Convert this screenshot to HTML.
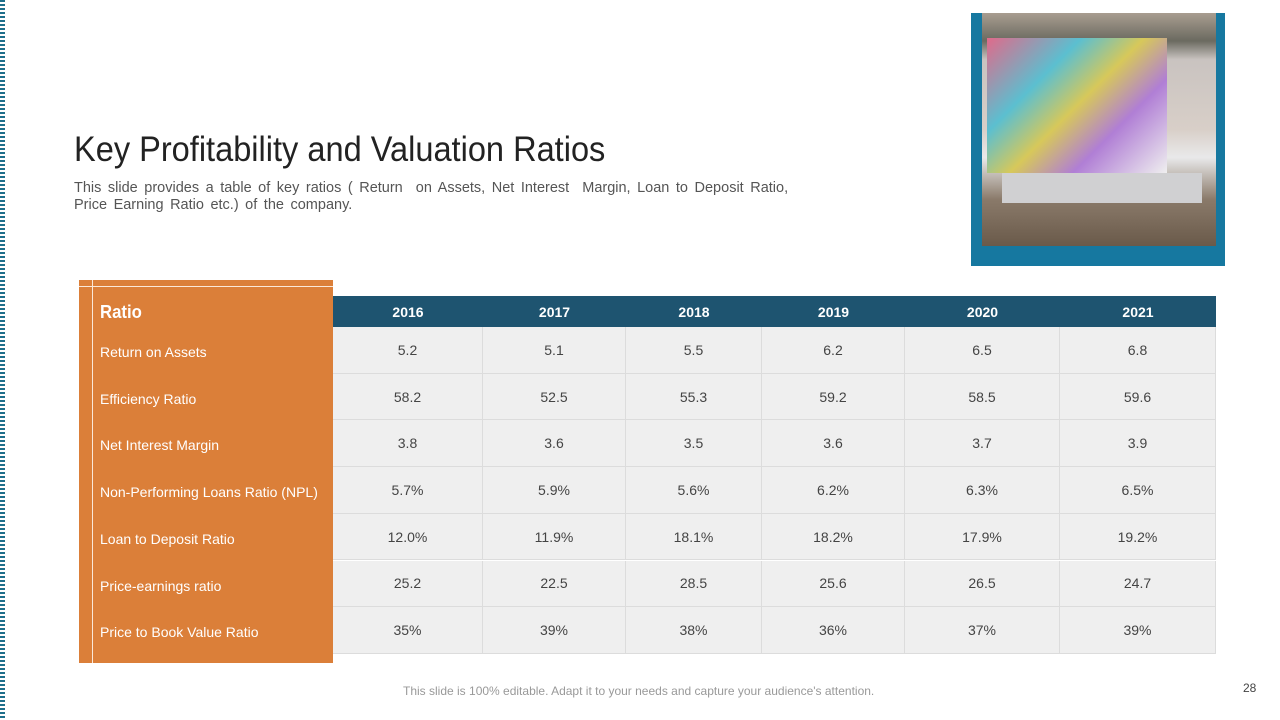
<!DOCTYPE html>
<html><head><meta charset="utf-8"><style>
body{margin:0;width:1280px;height:720px;position:relative;background:#fff;font-family:"Liberation Sans",sans-serif;overflow:hidden}
.abs{position:absolute}
.cell{position:absolute;background:#efefef;border-right:1.5px solid #dcdcdc;border-bottom:1.5px solid #dcdcdc;box-sizing:border-box;display:flex;align-items:center;justify-content:center;font-size:14px;color:#444}
.yr{position:absolute;color:#fff;font-weight:bold;font-size:14px;display:flex;align-items:center;justify-content:center}
.lab{position:absolute;color:#fff;font-size:14px;left:100px}
</style></head><body>
<div class="abs" style="left:0;top:0;width:5px;height:720px;background:repeating-linear-gradient(#1f6f8b 0 2px,#fff 2px 4px)"></div>
<div class="abs" style="left:74px;top:130px;font-size:35px;color:#222;transform:scaleX(0.93);transform-origin:left">Key Profitability and Valuation Ratios</div>
<div class="abs" style="left:74px;top:180px;font-size:14.5px;color:#555;line-height:17px;white-space:nowrap;word-spacing:2.5px">This slide provides a table of key ratios ( Return &nbsp;on Assets, Net Interest &nbsp;Margin, Loan to Deposit Ratio,<br>Price Earning Ratio etc.) of the company.</div>
<div class="abs" style="left:971px;top:13px;width:254px;height:253px;background:#1678a0"></div>
<div class="abs" style="left:982px;top:13px;width:234px;height:233px;background:linear-gradient(180deg,#a89d90 0%,#6b6a60 12%,#c9c3c0 20%,#d8cfc8 50%,#e9e9ea 62%,#8a7a6a 80%,#6a5a4a 100%)">
<div class="abs" style="left:5px;top:25px;width:180px;height:135px;background:linear-gradient(135deg,#e06a8a,#5bbfd0 30%,#d7c85a 50%,#b07ed5 70%,#efefef)"></div>
<div class="abs" style="left:20px;top:160px;width:200px;height:30px;background:#d0d0d2"></div>
</div>
<div class="abs" style="left:79px;top:280px;width:254px;height:383px;background:#db7f39"></div>
<div class="abs" style="left:79px;top:286px;width:254px;height:1px;background:#fbe8d8"></div>
<div class="abs" style="left:92px;top:280px;width:1px;height:383px;background:#fbe8d8"></div>
<div class="abs" style="left:333px;top:296px;width:883px;height:31px;background:#1e5470"></div>
<div class="abs" style="left:100px;top:302px;color:#fff;font-weight:bold;font-size:18px;transform:scaleX(0.93);transform-origin:left">Ratio</div>
<div id="tbl"></div>
<div class="abs" style="left:403px;top:684px;font-size:12px;color:#999">This slide is 100% editable. Adapt it to your needs and capture your audience's attention.</div>
<div class="abs" style="left:1243px;top:681px;font-size:12px;color:#444">28</div>
<script>
const years=["2016","2017","2018","2019","2020","2021"];
const labels=["Return on Assets","Efficiency Ratio","Net Interest Margin","Non-Performing Loans Ratio (NPL)","Loan to Deposit Ratio","Price-earnings ratio","Price to Book Value Ratio"];
const values=[
["5.2","5.1","5.5","6.2","6.5","6.8"],
["58.2","52.5","55.3","59.2","58.5","59.6"],
["3.8","3.6","3.5","3.6","3.7","3.9"],
["5.7%","5.9%","5.6%","6.2%","6.3%","6.5%"],
["12.0%","11.9%","18.1%","18.2%","17.9%","19.2%"],
["25.2","22.5","28.5","25.6","26.5","24.7"],
["35%","39%","38%","36%","37%","39%"]];
const colX=[333,483,626,762,905,1060,1216];
const top0=327,rh=46.7;
const t=document.getElementById('tbl');
years.forEach((y,i)=>{const d=document.createElement('div');d.className='yr';


d.style.left=colX[i]+'px';d.style.width=(colX[i+1]-colX[i])+'px';d.style.top='296px';d.style.height='31px';d.textContent=y;t.appendChild(d);});
labels.forEach((l,r)=>{const y=top0+r*rh;
const a=document.createElement('div');a.className='lab';


a.style.top=(y+17)+'px';a.textContent=l;t.appendChild(a);
values[r].forEach((v,c)=>{const d=document.createElement('div');d.className='cell';


d.style.left=colX[c]+'px';d.style.width=(colX[c+1]-colX[c])+'px';d.style.top=y+'px';d.style.height=rh+'px';d.textContent=v;t.appendChild(d);});});
</script>
</body></html>
